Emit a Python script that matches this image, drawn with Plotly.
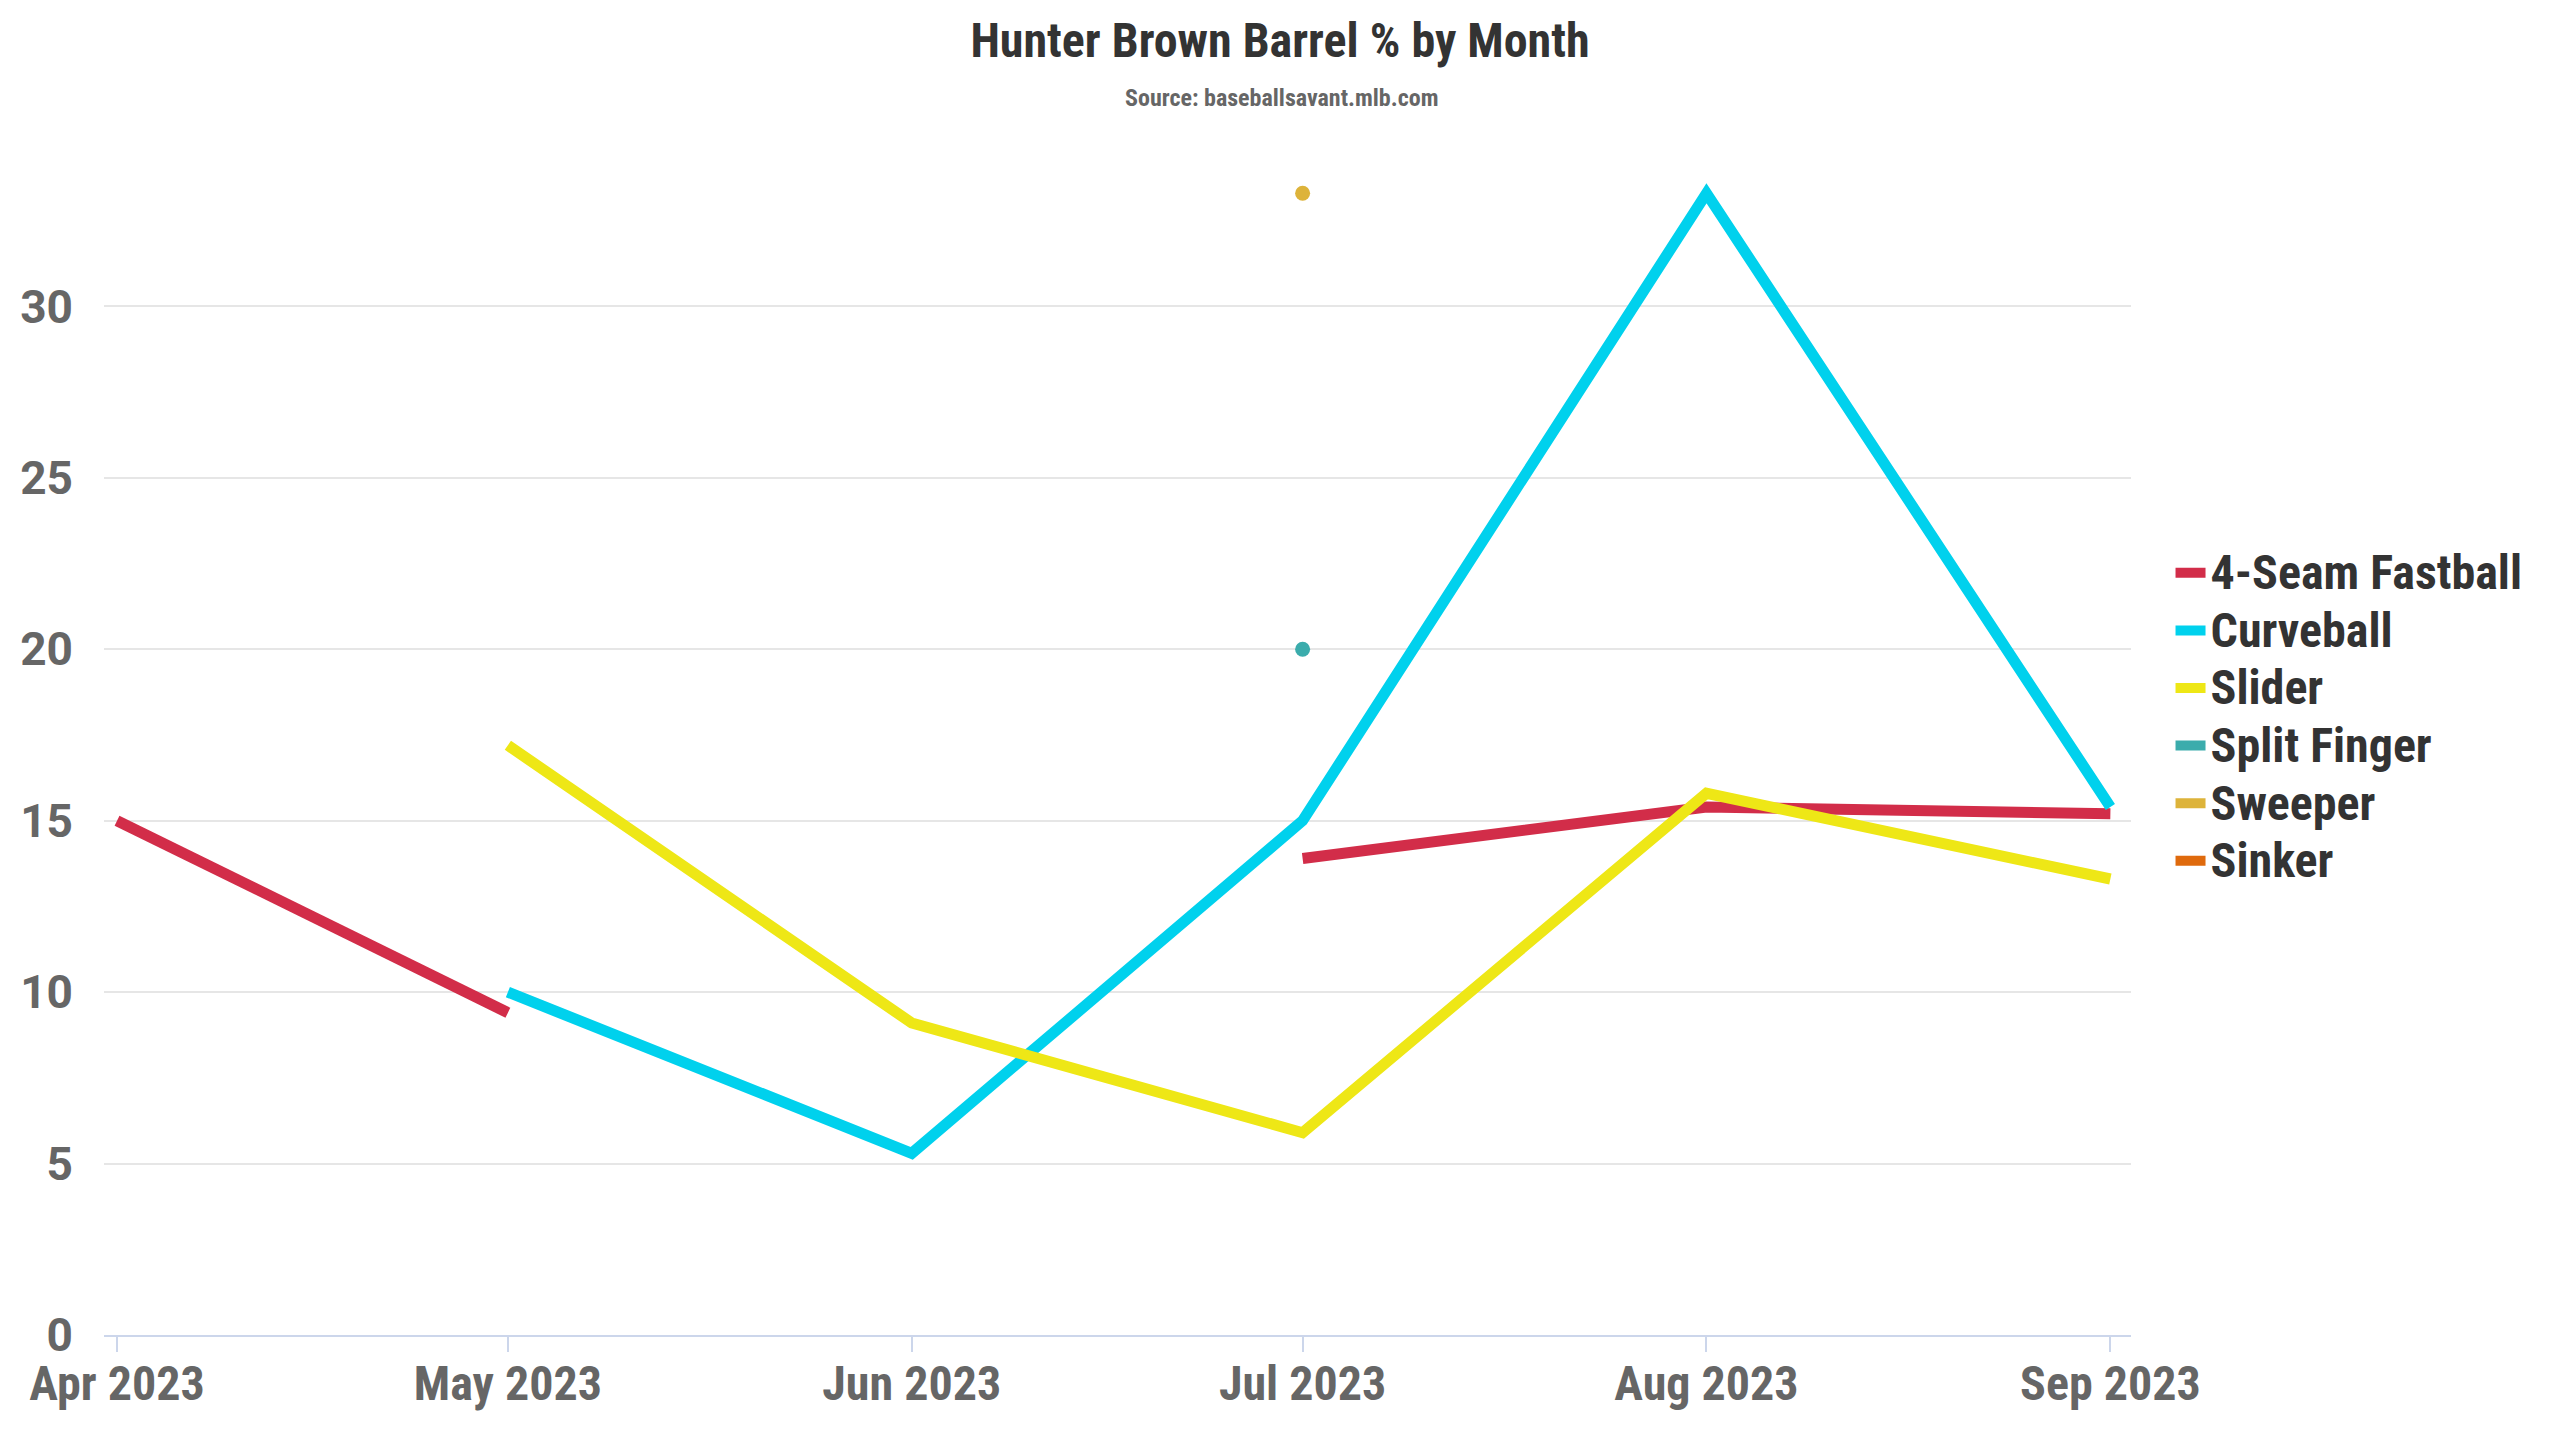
import plotly.graph_objects as go

# monthly barrel % by pitch type (None = no data that month)
months = ["2023-04-01", "2023-05-01", "2023-06-01", "2023-07-01", "2023-08-01", "2023-09-01"]
pitch_names = ["4-Seam Fastball", "Curveball", "Slider", "Split Finger", "Sweeper", "Sinker"]
fastball = [15.0, 9.4, None, 13.9, 15.4, 15.2]
curveball = [None, 10.0, 5.3, 15.0, 33.3, 15.4]
slider = [None, 17.2, 9.1, 5.9, 15.8, 13.3]
split_finger = [None, None, None, 20.0, None, None]
sweeper = [None, None, None, 33.3, None, None]
sinker = [None, None, None, None, None, None]
pitch_colors = ["#d22d49", "#00d1ed", "#eee716", "#3bacac", "#ddb33a", "#df6a0d"]
y_ticks = [0, 5, 10, 15, 20, 25, 30]

COND = "Roboto Condensed, Roboto, Arial Narrow, sans-serif"
# the page puts the figure 8px in from the corner, so everything is pulled back by that
OFF = 8


def isolated(values):
    # points with no neighbour on either side get a dot, like highcharts does
    out = []
    for i, v in enumerate(values):
        prev_v = values[i - 1] if i > 0 else None
        next_v = values[i + 1] if i < len(values) - 1 else None
        out.append(v if v is not None and prev_v is None and next_v is None else None)
    return out


def main():
    series = [fastball, curveball, slider, split_finger, sweeper, sinker]
    fig = go.Figure()
    for name, values, color in zip(pitch_names, series, pitch_colors):
        label = '<span style="font-size:48px">' + name + '</span>'
        fig.add_trace(go.Scatter(x=months, y=values, name=label, mode="lines",
                                 line=dict(color=color, width=11),
                                 legendgroup=name, connectgaps=False))
        dots = isolated(values)
        if any(d is not None for d in dots):
            fig.add_trace(go.Scatter(x=months, y=dots, mode="markers", showlegend=False,
                                     legendgroup=name,
                                     marker=dict(color=color, size=15)))

    fig.update_layout(
        width=2560, height=1440,
        paper_bgcolor="white", plot_bgcolor="white",
        margin=dict(l=101 - OFF, r=429 + OFF, t=135 - OFF, b=105 + OFF),
        font=dict(family=COND, color="#666666", size=48, weight="bold"),
        title=dict(text="Hunter Brown Barrel % by Month", x=(1280 - OFF) / 2560, xref="container",
                   y=1 - (40 - OFF) / 1440, yref="container", yanchor="middle",
                   font=dict(family=COND, size=48, color="#333333", weight="bold")),
        legend=dict(x=1.0195, xanchor="left", y=0.515, yanchor="middle",
                    font=dict(family=COND, size=42, color="#333333", weight="bold"),
                    tracegroupgap=0, bgcolor="rgba(0,0,0,0)"),
        showlegend=True,
    )
    fig.add_annotation(text="Source: baseballsavant.mlb.com", xref="paper", yref="paper",
                       x=(1280 - 101) / 2030, y=(1335 - 98) / 1200, yanchor="middle",
                       showarrow=False,
                       font=dict(family=COND, size=24, color="#666666", weight="bold"))

    fig.update_xaxes(type="date", range=["2023-03-31", "2023-09-02 14:00"],
                     tick0="2023-04-01", dtick="M1", tickformat="%b %Y",
                     showgrid=False, showline=True, linecolor="#ccd6eb", linewidth=2,
                     ticks="outside", ticklen=15, tickwidth=2, tickcolor="#ccd6eb",
                     zeroline=False, ticklabelstandoff=-10)
    fig.update_yaxes(range=[0, 35], tickvals=y_ticks, showgrid=True, gridcolor="#e6e6e6",
                     gridwidth=2, zeroline=False, showline=False, ticks="",
                     ticklabelstandoff=30,
                     tickfont=dict(family="Roboto, sans-serif", size=46, color="#666666",
                                   weight="bold"))

    fig.write_html("out.html")


if __name__ == "__main__":
    main()
